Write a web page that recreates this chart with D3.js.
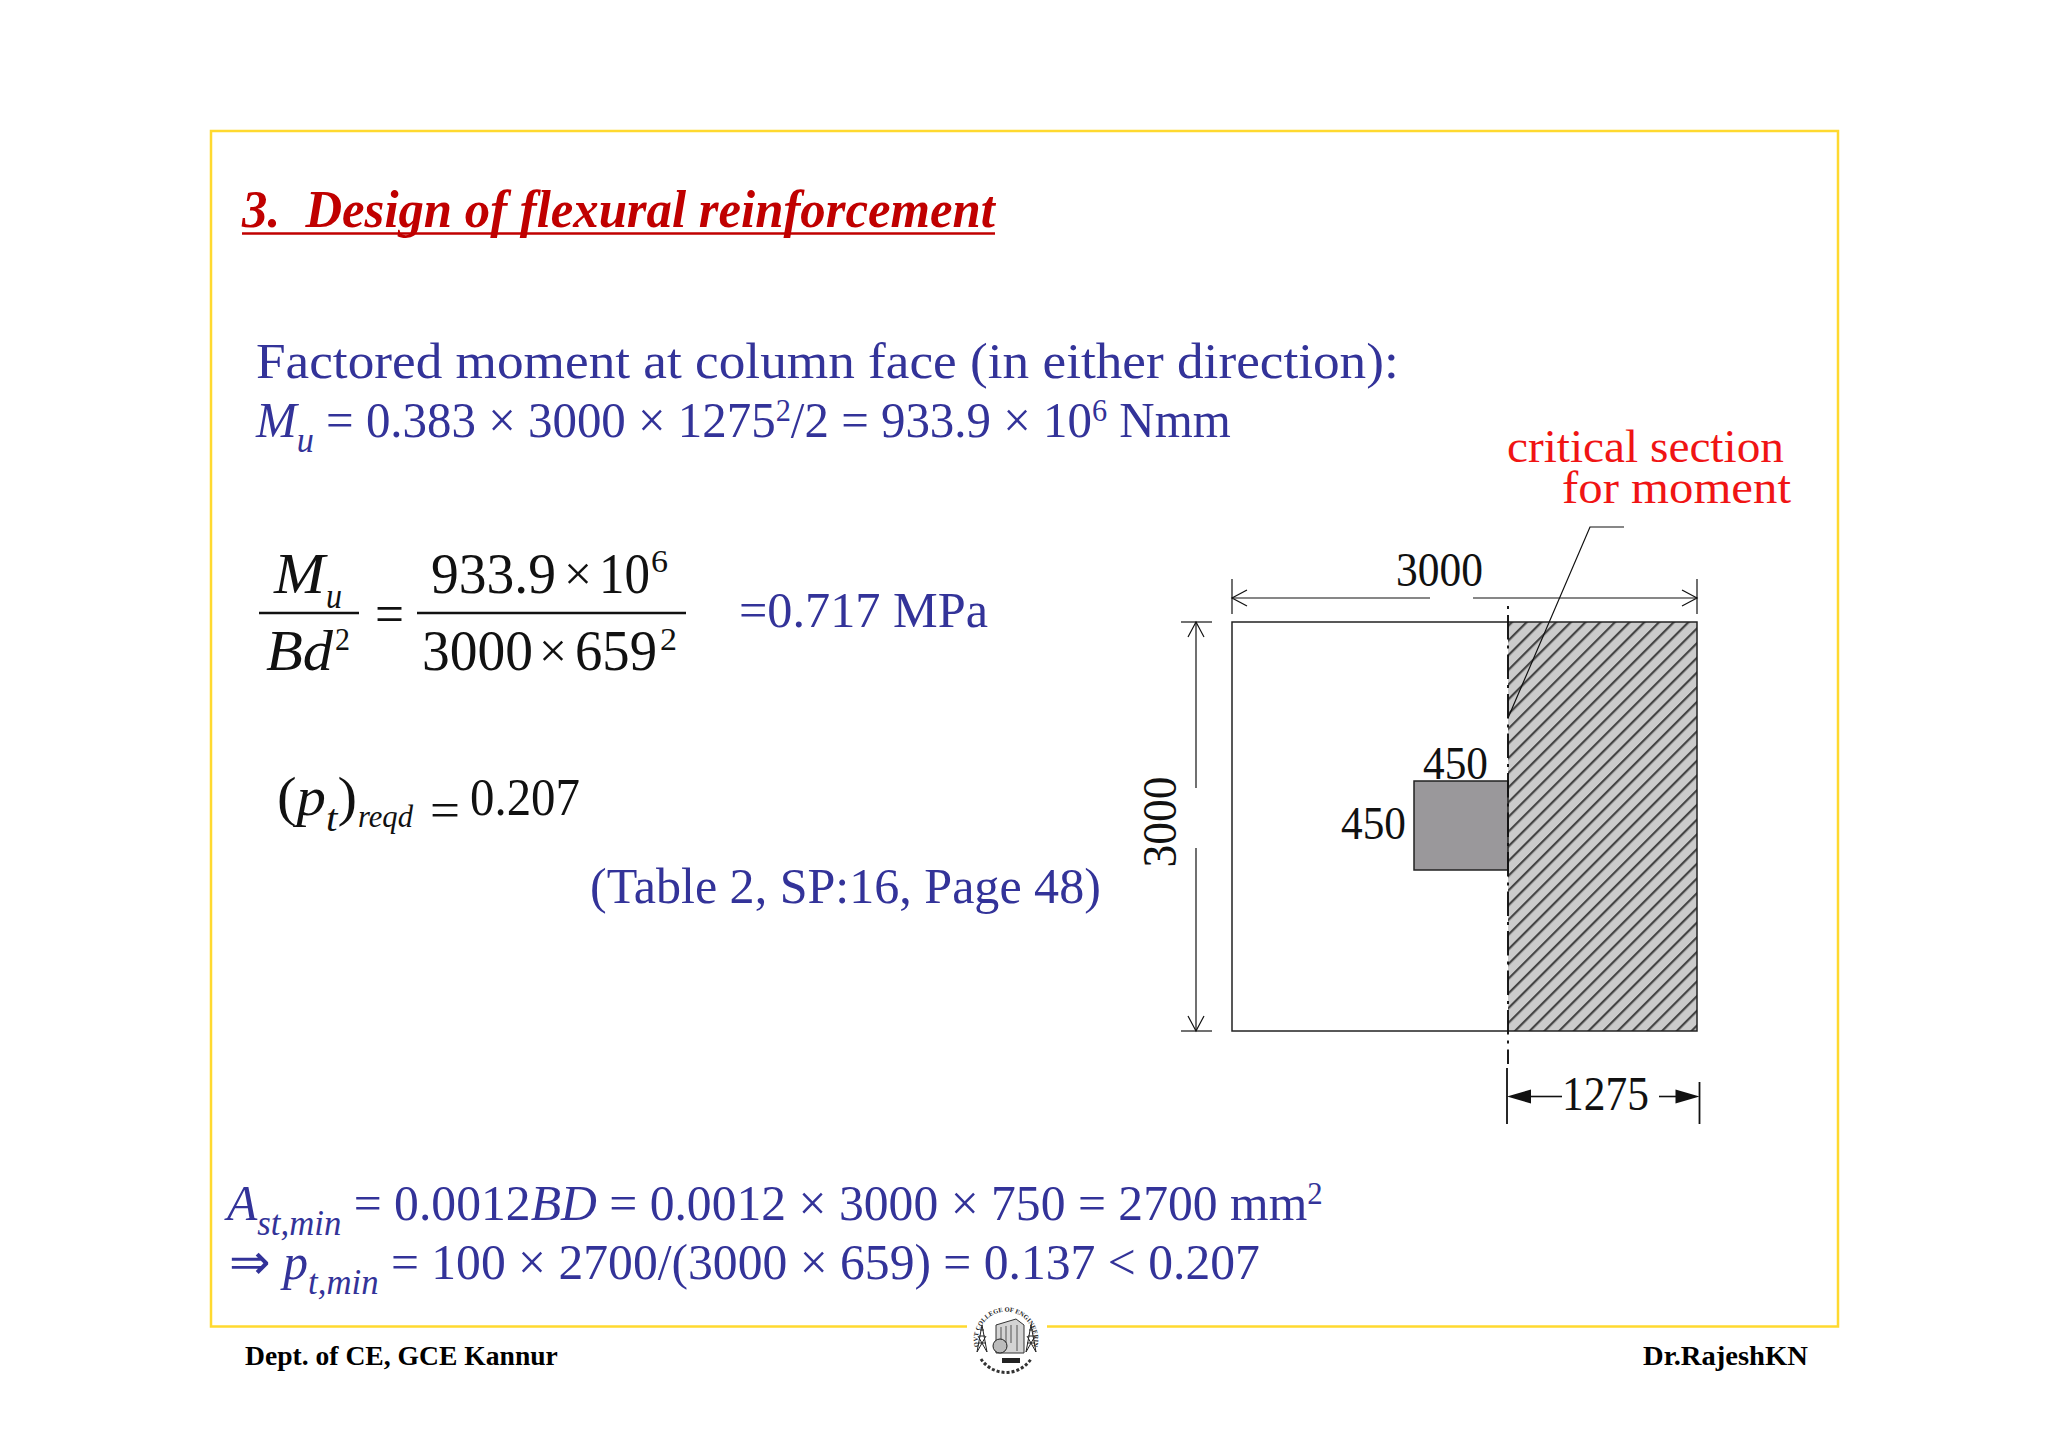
<!DOCTYPE html>
<html>
<head>
<meta charset="utf-8">
<style>
  html, body { margin: 0; background: #fff; }
  text { font-family: "Liberation Serif", serif; white-space: pre; }
</style>
<script src="https://cdn.jsdelivr.net/npm/d3@7"></script>
</head>
<body>
<svg width="2048" height="1448"></svg>
<script>
// slab plan, mm (stations: slab edge, column faces, slab edge)
var slabStations = [0, 1275, 1725, 3000],
    columnFaces = [1275, 1725],
    criticalSection = 1725,
    slabLabels = ["3000", "3000"],
    columnLabels = ["450", "450"],
    projectionLabel = "1275";

var titleText = "3.  Design of flexural reinforcement",
    momentHeading = "Factored moment at column face (in either direction):",
    momentRuns = [["M", "i"], ["u", "isub"], [" = 0.383 × 3000 × 1275"], ["2", "sup"], ["/2 = 933.9 × 10"], ["6", "sup"], [" Nmm"]],
    stressResult = "=0.717 MPa",
    tableRef = "(Table 2, SP:16, Page 48)",
    ptRuns = [["("], ["p", "i"], ["t", "isub"], [")"]],
    astRuns = [["A", "i"], ["st,min", "isub"], [" = 0.0012"], ["BD", "i"], [" = 0.0012 × 3000 × 750 = 2700 mm"], ["2", "sup"]],
    ptMinRuns = [["⇒ "], ["p", "i"], ["t,min", "isub"], [" = 100 × 2700/(3000 × 659) = 0.137 < 0.207"]],
    sectionNote = ["critical section", "for moment"],
    footerLeft = "Dept. of CE, GCE Kannur",
    footerRight = "Dr.RajeshKN";

var blue = "#333399", ink = "#111", red = "#f01414";

var svg = d3.select("svg");
svg.append("rect").attr("width", 2048).attr("height", 1448).attr("fill", "#fff");

// not drawn to scale in the slide, so the scales are piecewise
var x = d3.scaleLinear().domain(slabStations).range([1232, 1414, 1508, 1697]),
    y = d3.scaleLinear().domain(slabStations).range([622, 781, 870, 1031]);

// text of mixed runs, squeezed horizontally to span x0..x1
function runs(list, x0, x1, base, size, color, weight) {
  var g = svg.append("g").attr("transform", "translate(" + x0 + "," + base + ")"),
      t = g.append("text").attr("font-size", size).attr("fill", color)
        .attr("font-weight", weight || "normal"),
      shift = 0;
  list.forEach(function(r) {
    var kind = r[1], span = t.append("tspan").text(r[0]), target = 0;
    if (kind == "i" || kind == "isub") span.attr("font-style", "italic");
    if (kind == "isub") { target = size * 0.3; span.attr("font-size", size * 0.7); }
    if (kind == "sup") { target = -size * 0.32; span.attr("font-size", size * 0.62); }
    span.attr("dy", target - shift);
    shift = target;
  });
  var len = t.node().getComputedTextLength();
  g.attr("transform", "translate(" + x0 + "," + base + ") scale(" + (x1 - x0) / len + ",1)");
  return g;
}

function openArrow(tx, ty, dx, dy) {
  // dx,dy is the unit direction the head points in
  var back = 15, wing = 8, p = d3.path();
  p.moveTo(tx - dx * back - dy * wing, ty - dy * back - dx * wing);
  p.lineTo(tx, ty);
  p.lineTo(tx - dx * back + dy * wing, ty - dy * back + dx * wing);
  svg.append("path").attr("d", p.toString()).attr("fill", "none").attr("stroke", ink).attr("stroke-width", 1.2);
}

function solidArrow(tx, ty, dir) {
  var p = d3.path();
  p.moveTo(tx, ty);
  p.lineTo(tx - dir * 24, ty - 7);
  p.lineTo(tx - dir * 24, ty + 7);
  p.closePath();
  svg.append("path").attr("d", p.toString()).attr("fill", ink);
}

function seg(x1, y1, x2, y2, w, color) {
  return svg.append("line").attr("x1", x1).attr("y1", y1).attr("x2", x2).attr("y2", y2)
    .attr("stroke", color || ink).attr("stroke-width", w || 1.2);
}

// slide frame with a gap for the college seal
var frame = d3.path();
frame.moveTo(967, 1326.5);
frame.lineTo(211, 1326.5);
frame.lineTo(211, 131);
frame.lineTo(1838, 131);
frame.lineTo(1838, 1326.5);
frame.lineTo(1047, 1326.5);
svg.append("path").attr("d", frame.toString()).attr("fill", "none").attr("stroke", "#ffd92f").attr("stroke-width", 2.5);

// heading
runs([[titleText, "i"]], 242, 995, 227, 52, "#c00000", "bold");
seg(242, 233.5, 995, 233.5, 2.6, "#c00000");

runs([[momentHeading]], 256, 1399, 378, 50, blue);
runs(momentRuns, 256, 1231, 437, 50, blue);

// Mu / Bd2 = ...
runs([["M", "i"]], 274, 325, 593, 58, ink);
runs([["u", "i"]], 326, 342, 608, 36, ink);
runs([["Bd", "i"]], 266, 333, 670, 58, ink);
runs([["2"]], 335, 350, 650, 32, ink);
seg(259, 613, 359, 613, 2.4);
runs([["="]], 375, 404, 633, 58, ink);
runs([["933.9"]], 431, 556, 593, 58, ink);
runs([["×"]], 564, 592, 590, 48, ink);
runs([["10"]], 599, 650, 593, 58, ink);
runs([["6"]], 651, 668, 572, 32, ink);
runs([["3000"]], 422, 533, 670, 58, ink);
runs([["×"]], 539, 567, 667, 48, ink);
runs([["659"]], 575, 657, 670, 58, ink);
runs([["2"]], 660, 677, 650, 32, ink);
seg(417, 613, 686, 613, 2.4);
runs([[stressResult]], 739, 988, 627, 50, blue);

runs(ptRuns, 277, 357, 815, 54, ink);
runs([["reqd", "i"]], 358, 413, 827, 32, ink);
runs([["="]], 430, 460, 827, 50, ink);
runs([["0.207"]], 470, 580, 815, 52, ink);
runs([[tableRef]], 590, 1101, 903, 50, blue);

runs(astRuns, 227, 1323, 1220, 50, blue);
runs(ptMinRuns, 229, 1260, 1279, 50, blue);

// hatched part of the slab outside the critical section
var hatch = svg.append("defs").append("pattern").attr("id", "hatch")
  .attr("patternUnits", "userSpaceOnUse").attr("width", 10.4).attr("height", 10.4)
  .attr("patternTransform", "rotate(-45)");
hatch.append("rect").attr("width", 10.4).attr("height", 10.4).attr("fill", "#cbcbcb");
hatch.append("rect").attr("width", 10.4).attr("height", 2.2).attr("fill", "#444");

svg.append("rect").attr("x", x(criticalSection)).attr("y", y(0))
  .attr("width", x(3000) - x(criticalSection)).attr("height", y(3000) - y(0))
  .attr("fill", "url(#hatch)");
svg.append("rect").attr("x", x(0)).attr("y", y(0))
  .attr("width", x(3000) - x(0)).attr("height", y(3000) - y(0))
  .attr("fill", "none").attr("stroke", "#222").attr("stroke-width", 1.5);

// column
svg.append("rect").attr("x", x(columnFaces[0])).attr("y", y(columnFaces[0]))
  .attr("width", x(columnFaces[1]) - x(columnFaces[0]))
  .attr("height", y(columnFaces[1]) - y(columnFaces[0]))
  .attr("fill", "#9a989b").attr("stroke", "#222").attr("stroke-width", 1.5);

// critical section line
seg(x(criticalSection), 606, x(criticalSection), 1064, 1.9).attr("stroke-dasharray", "3,6,24.5,6");

// leader
svg.append("path").attr("d", d3.line()([[1624, 527], [1590, 527], [1508, 718]]))
  .attr("fill", "none").attr("stroke", ink).attr("stroke-width", 1.2);

runs([[sectionNote[0]]], 1507, 1784, 462, 47, red);
runs([[sectionNote[1]]], 1562, 1791, 503, 47, red);

// top dimension
seg(x(0), 579, x(0), 614);
seg(x(3000), 579, x(3000), 614);
seg(x(0), 598, 1430, 598);
seg(1473, 598, x(3000), 598);
openArrow(x(0), 598, -1, 0);
openArrow(x(3000), 598, 1, 0);
runs([[slabLabels[0]]], 1396, 1483, 586, 48, ink);

// left dimension
seg(1181, y(0), 1212, y(0));
seg(1181, y(3000), 1212, y(3000));
seg(1196, y(0), 1196, 788);
seg(1196, 848, 1196, y(3000));
openArrow(1196, y(0), 0, -1);
openArrow(1196, y(3000), 0, 1);
svg.append("text").attr("font-size", 48).attr("fill", ink)
  .attr("text-anchor", "middle")
  .attr("transform", "translate(1176,822) rotate(-90) scale(0.95,1)")
  .text(slabLabels[1]);

// column dimensions
runs([[columnLabels[0]]], 1423, 1488, 779, 46, ink);
runs([[columnLabels[1]]], 1341, 1406, 839, 46, ink);

// projection dimension
seg(1507, 1068, 1507, 1124, 1.8);
seg(1699.5, 1082, 1699.5, 1124, 1.8);
seg(1531, 1096.5, 1562, 1096.5, 1.6);
seg(1659, 1096.5, 1676, 1096.5, 1.6);
solidArrow(1507, 1096.5, -1);
solidArrow(1699.5, 1096.5, 1);
runs([[projectionLabel]], 1562, 1649, 1110, 48, ink);

// footer
runs([[footerLeft]], 245, 558, 1365, 27, "#000", "bold");
runs([[footerRight]], 1643, 1808, 1365, 27, "#000", "bold");

// college seal
var seal = svg.append("g").attr("transform", "translate(1006,1339)");
seal.append("defs").append("path").attr("id", "sealArc").attr("d", "M-27,8 A28,28 0 1 1 27,8");
seal.append("text").attr("font-size", 6.5).attr("font-weight", "bold").attr("fill", "#222")
  .append("textPath").attr("href", "#sealArc").attr("startOffset", "50%").attr("text-anchor", "middle")
  .text("GOVT COLLEGE OF ENGINEERING");
seal.append("path").attr("d", "M-10,-14 L10,-20 L18,-14 L18,14 L-10,14 Z")
  .attr("fill", "#d4d4d4").attr("stroke", "#333");
seal.append("path").attr("d", "M-5,-12 L-5,4 M0,-13 L0,4 M5,-14 L5,4 M11,-14 L11,12")
  .attr("stroke", "#555").attr("fill", "none");
seal.append("circle").attr("cx", -6).attr("cy", 7).attr("r", 7).attr("fill", "#bbb").attr("stroke", "#222");
seal.append("path").attr("d", "M-24,-14 L-29,13 M-24,-14 L-19,13 M-28,4 L-20,4 M-27,-3 L-21,-3 M-26,-9 L-22,-9 M-29,13 L-20,-3 M-19,13 L-28,-3")
  .attr("stroke", "#222").attr("fill", "none");
seal.append("path").attr("d", "M25,-14 L20,13 M25,-14 L30,13 M21,4 L29,4 M22,-3 L28,-3 M23,-9 L27,-9 M20,13 L29,-3 M30,13 L21,-3")
  .attr("stroke", "#222").attr("fill", "none");
seal.append("rect").attr("x", -4).attr("y", 19).attr("width", 18).attr("height", 5).attr("fill", "#222");
seal.append("path").attr("d", "M-25,20 A30,30 0 0 0 25,20").attr("fill", "none")
  .attr("stroke", "#333").attr("stroke-width", 3).attr("stroke-dasharray", "3,2");
</script>
</body>
</html>
